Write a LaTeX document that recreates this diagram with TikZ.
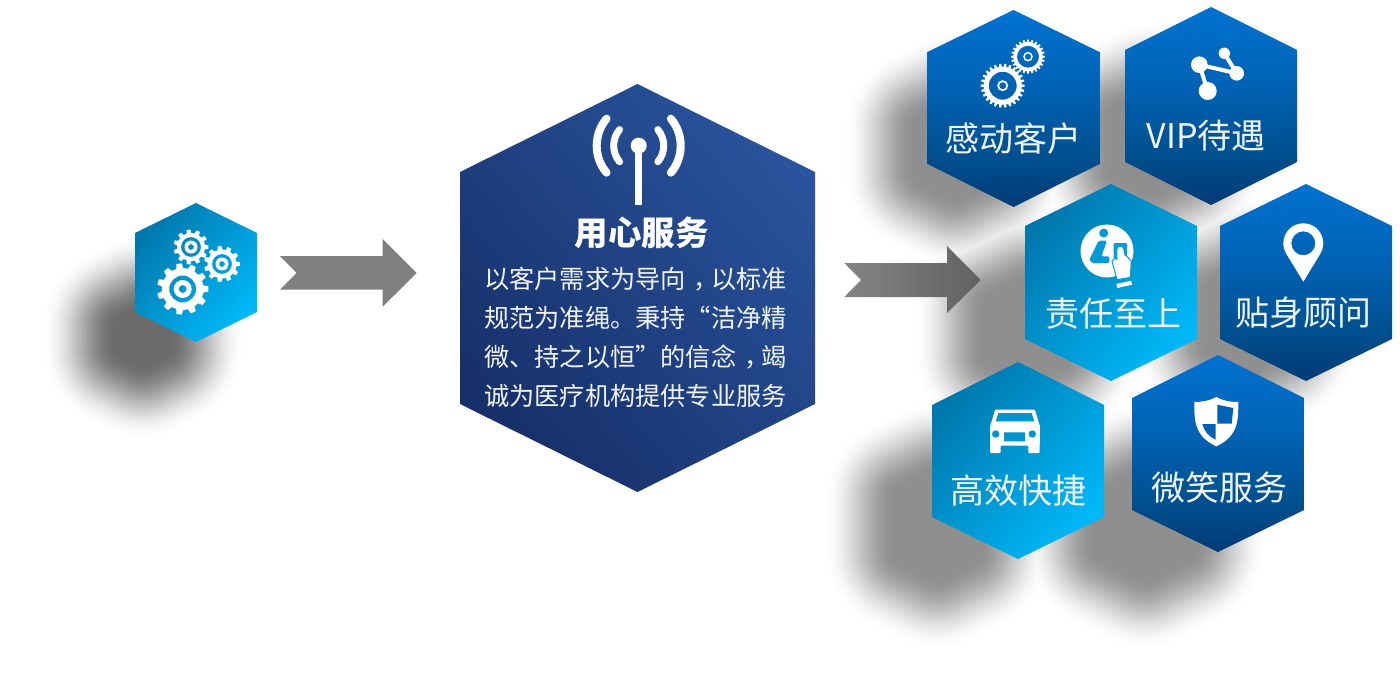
\documentclass[tikz,border=0pt]{standalone}
\usepackage{fontspec}
\newfontfamily\cjk{Noto Sans CJK SC}
\usetikzlibrary{calc}

\definecolor{dbA}{HTML}{003A76}
\definecolor{dbB}{HTML}{00508F}
\definecolor{dbC}{HTML}{0062B4}
\definecolor{dbD}{HTML}{0072D0}
\definecolor{cyanDark}{HTML}{0078AE}
\definecolor{cyanLight}{HTML}{00B8F8}
\definecolor{navyDark}{HTML}{17306A}
\definecolor{navyLight}{HTML}{29539C}
\definecolor{labelWhite}{HTML}{F0F4F8}

\pgfdeclareverticalshading{deepblue}{100bp}{color(0bp)=(dbA); color(25bp)=(dbA); color(38bp)=(dbB); color(55bp)=(dbC); color(75bp)=(dbD); color(100bp)=(dbD)}

\tikzset{
  cyanhex/.style={shade,top color=cyanDark,bottom color=cyanLight,shading angle=50},
  bluehex/.style={shade,shading=deepblue},
  navyhex/.style={shade,top color=navyLight,bottom color=navyDark,shading angle=-50},
  hexlabel/.style={text=labelWhite,inner sep=0pt,font=\cjk\fontsize{34}{36}\selectfont},
  chevron/.style={fill=#1},
  softlayer/.style={line join=round},
  iconline/.style={draw=white,line cap=round,line join=round},
}

% hexagon: centre x, half width, top tip, upper shoulder, lower shoulder, bottom tip
\newcommand\hexpath[6]{(#1,#3) -- ({#1+#2},#4) -- ({#1+#2},#5) -- (#1,#6) -- ({#1-#2},#5) -- ({#1-#2},#4) -- cycle}

% core of a soft shadow: centre, half width and half height of its half-tone outline;
% the blur reaches 42 units either side of that outline
\newcommand\softcore[4]{%
  \path[softlayer,fill=black!\shadetone,draw=black!\shadetone,line width=\lw pt]
    (#1,{#2-(#4-47)}) -- ({#1+#3-42},{#2-(#4-47)+(#3-42)*.49}) --
    ({#1+#3-42},{#2+(#4-47)-(#3-42)*.49}) -- (#1,{#2+(#4-47)}) --
    ({#1-#3+42},{#2+(#4-47)-(#3-42)*.49}) -- ({#1-#3+42},{#2-(#4-47)+(#3-42)*.49}) -- cycle;}

% toothed wheel with a ring cut out of it, centred on the current origin
\newcommand\gearwheel[8]{% x, y, tip radius, root radius, teeth, ring outer, ring inner, eye
  \begin{scope}[shift={(#1,#2)}]
    \pgfmathsetmacro\stepang{360/#5}
    \fill[white,even odd rule]
      (-.3*\stepang:#4)
      \foreach \n in {1,...,#5} {
        -- ({(\n-1)*\stepang-.18*\stepang}:#3) -- ({(\n-1)*\stepang+.18*\stepang}:#3)
        -- ({(\n-1)*\stepang+.3*\stepang}:#4) -- ({\n*\stepang-.3*\stepang}:#4)
      } -- cycle
      (0,0) circle[radius=#6] (0,0) circle[radius=#7] (0,0) circle[radius=#8];
  \end{scope}}

\newcommand\midcomma{\makebox[1em][l]{\hspace{.32em}，}}

\begin{document}
\begin{tikzpicture}[x=1pt,y=-1pt]
\useasboundingbox[fill=white] (0,0) rectangle (1400,695);

% soft shadows, dark towards the middle
\foreach \k in {0,...,42} {
  \pgfmathsetmacro\lw{(42-\k)*4}
  \pgfmathsetmacro\u{min(1,\k/38)}
  \pgfmathsetmacro\shadetone{58*\u*\u*(3-2*\u)}
  \softcore{143}{337}{60}{66}
}
\foreach \k in {0,...,42} {
  \pgfmathsetmacro\lw{(42-\k)*4}
  \pgfmathsetmacro\u{min(1,\k/36)}
  \pgfmathsetmacro\shadetone{44*\u*\u*(3-2*\u)}
  \softcore{955}{150}{70}{82}
  \softcore{1150}{143}{70}{85}
  \softcore{1027}{330}{72}{85}
  \softcore{1246}{319}{70}{85}
  \softcore{937}{525}{72}{88}
  \softcore{1145}{525}{80}{88}
}

% arrows between the stages
\fill[chevron=black!50] (280,256) -- (382.7,256) -- (382.7,239) -- (416.7,273) -- (382.7,306.7) -- (382.7,289.7) -- (280,289.7) -- (296.7,273) -- cycle;
\shade[left color=black!48,right color=black!62] (844.3,263) -- (947,263) -- (947,246) -- (980.7,280) -- (947,313) -- (947,297) -- (844.3,297) -- (861,280) -- cycle;

% hexagons
\path[cyanhex] \hexpath{196}{61}{203}{233}{312}{342};
\path[navyhex] \hexpath{637.5}{177.5}{84}{172}{404}{492};
\path[bluehex] \hexpath{1013.5}{86}{10}{52}{164}{207};
\path[bluehex] \hexpath{1211}{86}{7}{50}{162}{205};
\path[cyanhex] \hexpath{1111}{86}{184}{226}{339}{381};
\path[bluehex] \hexpath{1306}{86}{184}{226}{339}{381};
\path[cyanhex] \hexpath{1018}{86}{362}{405}{517}{559};
\path[bluehex] \hexpath{1218}{86}{355}{398}{510}{552};

% gears of the first hexagon
\gearwheel{182.7}{289}{25.7}{21}{11}{13.5}{9}{4}
\gearwheel{191}{247}{17.5}{14}{11}{10}{6.5}{3}
\gearwheel{222}{264}{18}{14.5}{11}{10}{6.5}{3}

% antenna
\fill[white] (638.7,145.7) circle[radius=8];
\draw[white,line width=7pt] (638.7,145.7) -- (638.7,205);
\draw[iconline,line width=7pt] ($(638.7,145.7)+(140:25)$) arc[start angle=140,end angle=220,radius=25];
\draw[iconline,line width=7pt] ($(638.7,145.7)+(-40:25)$) arc[start angle=-40,end angle=40,radius=25];
\draw[iconline,line width=8pt] ($(638.7,145.7)+(140:42)$) arc[start angle=140,end angle=220,radius=42];
\draw[iconline,line width=8pt] ($(638.7,145.7)+(-40:42)$) arc[start angle=-40,end angle=40,radius=42];

% fine-toothed gears
\gearwheel{1002.7}{85.7}{22}{19}{26}{14}{5.5}{3.6}
\gearwheel{1028}{56.7}{17}{14.6}{24}{11}{4.8}{3.2}

% linked dots
\coordinate (dotA) at (1199.3,64.7);
\coordinate (dotB) at (1224.3,53.3);
\coordinate (dotC) at (1236.7,73.3);
\coordinate (dotD) at (1207.7,91);
\draw[white,line width=4pt] (dotD) -- (dotA) -- (dotC) -- (dotB);
\fill[white] (dotA) circle[radius=8.3] (dotB) circle[radius=5.7] (dotC) circle[radius=7.3] (dotD) circle[radius=9];

% information sign with a pointing hand
\fill[white] (1107,251) circle[radius=26.5];
\fill[cyanDark!45!cyanLight] (1103.7,233) circle[radius=4.5];
\fill[cyanDark!45!cyanLight,rounded corners=1.5pt] (1098.7,240.7) -- (1107,240.7) -- (1101.3,256.3) -- (1109.3,256.3) -- (1109.3,263) -- (1092,263) -- (1089.3,259.7) -- cycle;
\fill[cyanDark!40!cyanLight,rounded corners=1pt] (1113.7,243) rectangle (1127,259);
\path[fill=white,draw=cyanDark!40!cyanLight,line width=1pt,line join=round]
  (1117,249) .. controls (1117,245.2) and (1123.7,245.2) .. (1123.7,249)
  -- (1124.7,254.7) -- (1127,256.3) -- (1131.3,261.3) -- (1130.3,277.3) -- (1117,279.7)
  -- (1112,261.3) -- (1114.7,258) -- (1116.8,259.5) -- cycle;
\fill[white] (1116.3,284) -- (1131.3,280.7) -- (1132,284.7) -- (1117.3,288) -- cycle;

% map pin
\fill[white,even odd rule] (1303.3,281.7) -- ($(1303.3,243.3)+(148.6:20)$) arc[start angle=148.6,end angle=391.4,radius=20] -- cycle (1303.3,243.3) circle[radius=12];

% car
\fill[white,rounded corners=.8pt] (995,409.7) -- (1035,409.7) -- (1038.3,421.3) -- (1040,426.3) -- (1039.6,453) -- (1028.3,453) -- (1028.3,445.7) -- (1000.7,445.7) -- (1000.7,453) -- (990,453) -- (990,426.3) -- (991.7,421.3) -- cycle;
\fill[cyanDark!55!cyanLight] (998.3,413) -- (1031.7,413) -- (1034.3,421.3) -- (995.7,421.3) -- cycle;
\fill[cyanDark!55!cyanLight] (995.7,434) circle[radius=3.7] (1032.3,434) circle[radius=3.7] (1004,432.3) rectangle (1025,441.3);

% shield
\fill[white] (1216.3,397) .. controls (1209,401) and (1202,402) .. (1194.3,402)
  .. controls (1194.3,420) and (1194,436) .. (1216.3,446.3)
  .. controls (1238.5,436) and (1238.3,420) .. (1238.3,402)
  .. controls (1230.5,402) and (1223.5,401) .. (1216.3,397) -- cycle;
\fill[dbC] (1217.3,404.7) -- (1233.3,408) -- (1231.7,423.5) -- (1217.3,423.5) -- cycle;
\fill[dbC] (1202.3,424) -- (1215.7,424) -- (1215.7,439.7) .. controls (1209,437) and (1204,431) .. (1202.3,424) -- cycle;

% texts
\node[inner sep=0pt,text=white,font=\cjk\bfseries\fontsize{33.5}{36}\selectfont] (title) at (641.5,233) {用心服务};
\node[inner sep=0pt,text=labelWhite,align=left,font=\cjk\fontsize{25.2}{39}\selectfont] (body) at (635.5,337.5) {以客户需求为导向\midcomma 以标准\\规范为准绳。秉持“洁净精\\微、持之以恒”的信念\midcomma 竭\\诚为医疗机构提供专业服务};
\node[hexlabel] (touch) at (1013,138.5) {感动客户};
\node[hexlabel] (vip) at (1206,135.5) {VIP待遇};
\node[hexlabel] (duty) at (1113,313.5) {责任至上};
\node[hexlabel] (advisor) at (1303,312.5) {贴身顾问};
\node[hexlabel] (fast) at (1018,490.5) {高效快捷};
\node[hexlabel] (smile) at (1219,487.5) {微笑服务};
\end{tikzpicture}
\end{document}
